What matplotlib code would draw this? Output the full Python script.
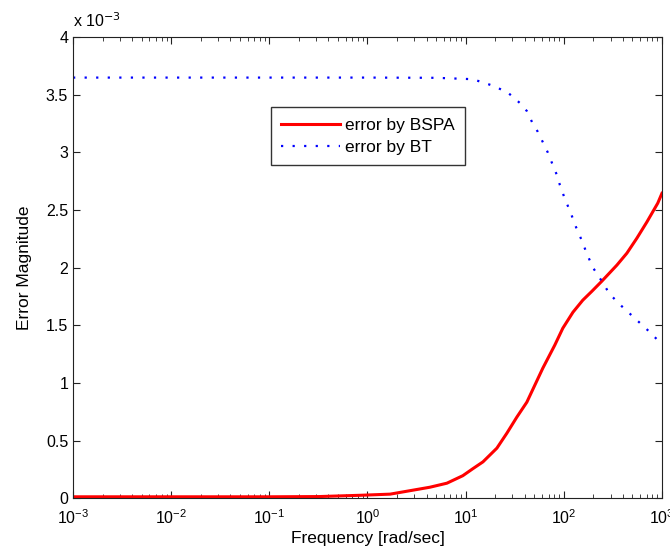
import matplotlib
matplotlib.use('Agg')
import matplotlib.pyplot as plt
from matplotlib.ticker import LogLocator, FixedLocator, NullFormatter

plt.rcParams['font.family'] = ['Liberation Sans', 'DejaVu Sans']

# values (frequency in rad/sec, error in units of 1e-3)
freq_bspa = [1e-3, 1e-2, 0.1, 0.32, 0.84, 1.70, 4.32, 6.44, 9.35, 11.8, 15.0, 20.8, 26.3, 33.2,
             42.0, 61.1, 80.9, 97.7, 124, 156, 193, 244, 347, 439, 555, 700, 906, 1000]
err_bspa = [0.012, 0.012, 0.012, 0.014, 0.025, 0.035, 0.095, 0.130, 0.195, 0.255, 0.315, 0.434,
            0.564, 0.703, 0.833, 1.128, 1.328, 1.475, 1.614, 1.718, 1.795, 1.883, 2.022, 2.126,
            2.256, 2.395, 2.56, 2.646]

freq_bt = [1e-3, 1e-2, 0.1, 1.0, 5.0, 11.8, 18.9, 26.9, 35.6, 42.0, 48.3, 54.3, 61.1, 68.7,
           77.3, 86.9, 91.0, 102, 118, 132, 152, 171, 197, 244, 294, 389, 528, 716, 951, 1000]
err_bt = [3.65, 3.65, 3.65, 3.65, 3.648, 3.636, 3.58, 3.52, 3.43, 3.36, 3.25, 3.18, 3.09, 3.00,
          2.89, 2.785, 2.72, 2.603, 2.473, 2.36, 2.239, 2.126, 2.004, 1.883, 1.770, 1.666, 1.562,
          1.458, 1.354, 1.34]

fig = plt.figure(figsize=(6.7, 5.56), dpi=100)
ax = fig.add_axes([0.109, 0.104, 0.879, 0.829])

ax.plot(freq_bspa, [v * 1e-3 for v in err_bspa], color='red', lw=2.2, label='error by BSPA')
ax.plot(freq_bt, [v * 1e-3 for v in err_bt], color='blue', lw=1.6, ls=(0, (1, 4.2)),
        label='error by BT')

ax.set_xscale('log')
ax.set_xlim(1e-3, 1e3)
ax.set_ylim(0, 4e-3)
ax.xaxis.set_major_locator(LogLocator(base=10, numticks=10))
ax.xaxis.set_minor_locator(LogLocator(base=10, subs=range(2, 10), numticks=10))
ax.xaxis.set_minor_formatter(NullFormatter())
yt = [0, 0.5, 1, 1.5, 2, 2.5, 3, 3.5, 4]
ax.yaxis.set_major_locator(FixedLocator([v * 1e-3 for v in yt]))
ax.set_yticklabels(['0', '0.5', '1', '1.5', '2', '2.5', '3', '3.5', '4'])

ax.tick_params(which='both', direction='in', top=True, right=True, labelsize=11.5, color='#222222')
ax.tick_params(axis='x', pad=7)
ax.tick_params(which='major', length=5)
ax.tick_params(which='minor', length=3)
for s in ax.spines.values():
    s.set_color('#222222')

ax.text(0.0, 1.015, r'x 10$^{-3}$', transform=ax.transAxes, fontsize=11.5, ha='left', va='bottom')

ax.set_xlabel('Frequency [rad/sec]', fontsize=12.5, labelpad=3)
ax.set_ylabel('Error Magnitude', fontsize=12.5, labelpad=10)

leg = ax.legend(loc='upper left', bbox_to_anchor=(0.336, 0.848), fontsize=12.5, frameon=True,
                fancybox=False, edgecolor='black', handlelength=3.4, borderpad=0.6,
                labelspacing=0.4, handletextpad=0.25, borderaxespad=0)
leg.get_frame().set_linewidth(1.0)

fig.savefig('out.png', dpi=100)
